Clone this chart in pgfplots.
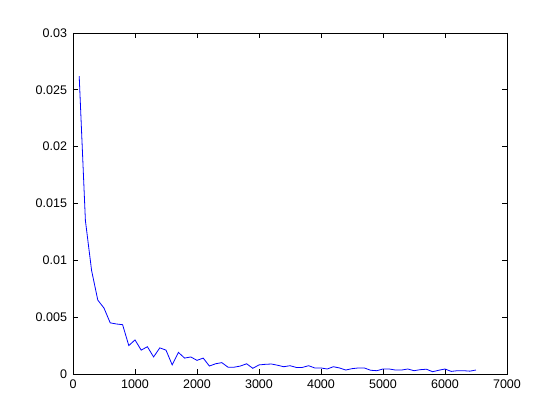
\documentclass[border=0pt]{standalone}
\usepackage{pgfplots}
\pgfplotsset{compat=1.18}
\usepackage{fontspec}
\setmainfont{Liberation Sans}
\begin{document}
\begin{tikzpicture}
\useasboundingbox (-73pt,-46pt) rectangle (487pt,374pt);
\begin{axis}[
  at={(0pt,0pt)}, anchor=south west,
  scale only axis, width=434pt, height=341pt,
  xmin=0, xmax=7000, ymin=0, ymax=0.03,
  xtick={0,1000,2000,3000,4000,5000,6000,7000},
  xticklabels={0,1000,2000,3000,4000,5000,6000,7000},
  ytick={0,0.005,0.01,0.015,0.02,0.025,0.03},
  yticklabels={0,0.005,0.01,0.015,0.02,0.025,0.03},
  scaled y ticks=false, scaled x ticks=false,
  tick align=inside, major tick length=5pt,
  tick style={black, line width=0.8pt},
  axis line style={black, line width=0.8pt},
  ticklabel style={font=\fontsize{12.5}{14}\selectfont},
  xticklabel style={yshift=-2.5pt},
  yticklabel style={xshift=-2.5pt},
]
\addplot[blue, line width=0.8pt] coordinates {
(100,0.0262) (200,0.0135) (300,0.0091) (400,0.0065) (500,0.0058)
(600,0.0045) (700,0.0044) (800,0.00434) (900,0.0025) (1000,0.0030)
(1100,0.0021) (1200,0.0024) (1300,0.0015) (1400,0.0023) (1500,0.0021)
(1600,0.0008) (1700,0.0019) (1800,0.0014) (1900,0.0015) (2000,0.0012)
(2100,0.0014) (2200,0.0007) (2300,0.0009) (2400,0.0010) (2500,0.0006)
(2600,0.0006) (2700,0.0007) (2800,0.0009) (2900,0.0005) (3000,0.0008)
(3100,0.00085) (3200,0.00088) (3300,0.00077) (3400,0.00064) (3500,0.00073)
(3600,0.00058) (3700,0.00058) (3800,0.00073) (3900,0.00053) (4000,0.00053)
(4100,0.00044) (4200,0.00064) (4300,0.00053) (4400,0.00035) (4500,0.00047)
(4600,0.00053) (4700,0.00053) (4800,0.00033) (4900,0.00029) (5000,0.00044)
(5100,0.00044) (5200,0.00035) (5300,0.00035) (5400,0.00044) (5500,0.00029)
(5600,0.00038) (5700,0.00042) (5800,0.00020) (5900,0.00033) (6000,0.00044)
(6100,0.00023) (6200,0.00029) (6300,0.00029) (6400,0.00025) (6500,0.00035)
};
\end{axis}
\end{tikzpicture}
\end{document}
